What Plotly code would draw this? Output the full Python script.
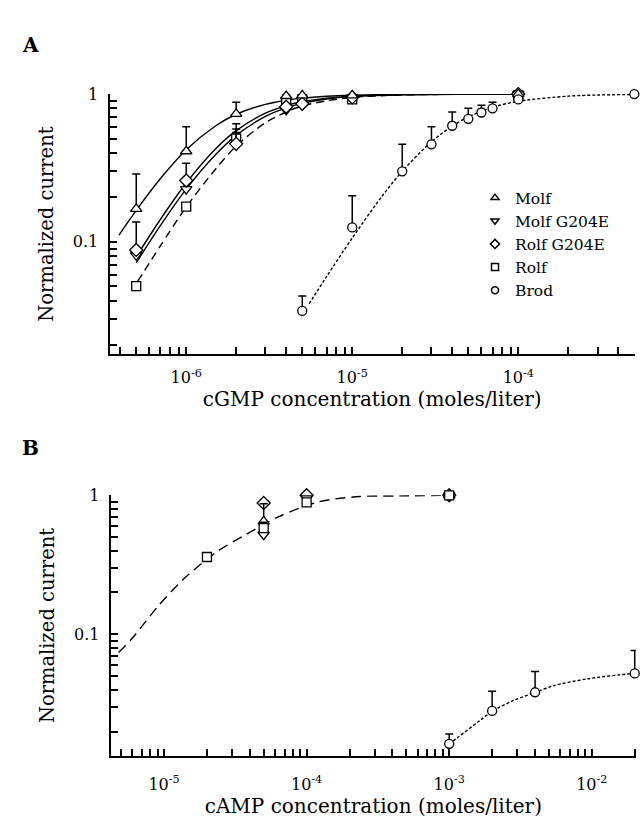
import plotly.graph_objects as go

# ---------------- Panel A (cGMP) data ----------------
a_conc = [5e-7, 1e-6, 2e-6, 4e-6, 5e-6, 1e-5, 1e-4]
a_molf = [0.167, 0.41, 0.735, 0.97, 0.98, 0.98, 1.0]
a_molf_err = [0.12, 0.19, 0.145, 0.03, 0.03, 0.0, 0.0]
a_molfg = [0.081, 0.227, 0.45, 0.78, 0.84, 0.95, 1.0]
a_molfg_err = [0.0, 0.0, 0.13, 0.0, 0.0, 0.0, 0.0]
a_rolfg = [0.088, 0.26, 0.46, 0.82, 0.86, 0.95, 1.0]
a_rolfg_err = [0.048, 0.08, 0.17, 0.0, 0.04, 0.0, 0.0]
a_rolf = [0.05, 0.173, 0.5, 0.88, 0.92, 0.92, 0.98]
a_rolf_err = [0.0, 0.0, 0.05, 0.0, 0.0, 0.0, 0.0]

a_brod_conc = [5e-6, 1e-5, 2e-5, 3e-5, 4e-5, 5e-5, 6e-5, 7e-5, 1e-4, 5e-4]
a_brod = [0.034, 0.125, 0.30, 0.457, 0.61, 0.68, 0.75, 0.80, 0.92, 1.0]
a_brod_err = [0.009, 0.08, 0.157, 0.143, 0.145, 0.12, 0.09, 0.08, 0.03, 0.0]

# fitted curves
a_fit_molf_x = [3.94e-7, 5e-7, 7e-7, 1e-6, 1.5e-6, 2e-6, 3e-6, 4e-6, 5e-6, 7e-6, 1e-5, 2e-5, 5e-5, 1e-4]
a_fit_molf_y = [0.111, 0.163, 0.268, 0.42, 0.608, 0.73, 0.852, 0.908, 0.938, 0.966, 0.982, 0.995, 0.999, 1.0]
a_fit_molfg_x = [5e-7, 7e-7, 1e-6, 1.5e-6, 2e-6, 3e-6, 4e-6, 5e-6, 7e-6, 1e-5, 2e-5, 5e-5, 1e-4]
a_fit_molfg_y = [0.072, 0.129, 0.227, 0.388, 0.525, 0.706, 0.807, 0.865, 0.925, 0.96, 0.989, 0.998, 1.0]
a_fit_rolfg_x = [5e-7, 7e-7, 1e-6, 1.5e-6, 2e-6, 3e-6, 4e-6, 5e-6, 7e-6, 1e-5, 2e-5, 5e-5, 1e-4]
a_fit_rolfg_y = [0.079, 0.142, 0.25, 0.425, 0.565, 0.742, 0.835, 0.887, 0.938, 0.968, 0.992, 0.999, 1.0]
a_fit_rolf_x = [5.1e-7, 7e-7, 1e-6, 1.5e-6, 2e-6, 3e-6, 4e-6, 5e-6, 7e-6, 1e-5, 2e-5, 5e-5, 1e-4]
a_fit_rolf_y = [0.054, 0.094, 0.172, 0.31, 0.445, 0.64, 0.756, 0.83, 0.90, 0.95, 0.986, 0.998, 1.0]
a_fit_brod_x = [5.5e-6, 7e-6, 1e-5, 1.5e-5, 2e-5, 3e-5, 4e-5, 5e-5, 7e-5, 1e-4, 2e-4, 3e-4, 5e-4]
a_fit_brod_y = [0.038, 0.058, 0.106, 0.201, 0.30, 0.476, 0.607, 0.70, 0.813, 0.894, 0.968, 0.985, 0.994]

# ---------------- Panel B (cAMP) data ----------------
b_conc = [5e-5, 1e-4, 1e-3]
b_molf = [0.65, 1.02, 1.0]
b_molf_err = [0.22, 0.0, 0.0]
b_molfg = [0.52, 0.95, 1.0]
b_molfg_err = [0.1, 0.0, 0.0]
b_rolfg = [0.88, 1.0, 1.0]
b_rolfg_err = [0.03, 0.0, 0.0]
b_rolf_conc = [2e-5, 5e-5, 1e-4, 1e-3]
b_rolf = [0.36, 0.58, 0.89, 1.0]
b_rolf_err = [0.0, 0.06, 0.0, 0.0]
b_brod_conc = [1e-3, 2e-3, 4e-3, 2e-2]
b_brod = [0.0163, 0.0281, 0.0383, 0.0523]
b_brod_err = [0.0029, 0.0109, 0.0157, 0.0243]

b_fit_rolf_x = [4.8e-6, 6e-6, 9.2e-6, 1.42e-5, 2.31e-5, 3.76e-5, 6.45e-5, 1.23e-4, 2.36e-4, 4.5e-4, 1e-3]
b_fit_rolf_y = [0.074, 0.094, 0.162, 0.258, 0.388, 0.523, 0.706, 0.90, 0.98, 0.99, 1.0]
b_fit_brod_x = [1e-3, 1.13e-3, 1.65e-3, 2.02e-3, 2.84e-3, 4.04e-3, 5.43e-3, 9.3e-3, 1.78e-2, 2.04e-2]
b_fit_brod_y = [0.0163, 0.0179, 0.0241, 0.0281, 0.0335, 0.0383, 0.0428, 0.0478, 0.0518, 0.0523]

series_names = ["Molf", "Molf G204E", "Rolf G204E", "Rolf", "Brod"]
symbols = ["triangle-up", "triangle-down", "diamond", "square", "circle"]
sizes = [10, 10, 10, 9, 9]

# tick labels
xA_decades = [-7, -6, -5, -4]
xB_decades = [-6, -5, -4, -3, -2]
y_decades = [-2, -1, 0]
xA_labels = {-6: "10<sup>-6</sup>", -5: "10<sup>-5</sup>", -4: "10<sup>-4</sup>"}
xB_labels = {-5: "10<sup>-5</sup>", -4: "10<sup>-4</sup>", -3: "10<sup>-3</sup>", -2: "10<sup>-2</sup>"}
y_labels = {-1: "0.1", 0: "1"}

FONT = "DejaVu Serif"
fig = go.Figure()


def curve(x, y, dash, xa, ya):
    fig.add_trace(go.Scatter(x=x, y=y, mode="lines", xaxis=xa, yaxis=ya,
                             line=dict(color="black", width=1.4, dash=dash, shape="spline", smoothing=0.8),
                             showlegend=False, hoverinfo="skip", cliponaxis=False))


def pts(x, y, err, idx, xa, ya):
    fig.add_trace(go.Scatter(
        x=x, y=y, mode="markers", xaxis=xa, yaxis=ya, showlegend=False,
        marker=dict(symbol=symbols[idx], size=sizes[idx], color="white",
                    line=dict(color="black", width=1.3)),
        error_y=dict(type="data", symmetric=False, array=err,
                     arrayminus=[0] * len(err), color="black", thickness=1.5, width=4),
        cliponaxis=False))


# Panel A curves
curve(a_fit_molf_x, a_fit_molf_y, "solid", "x", "y")
curve(a_fit_molfg_x, a_fit_molfg_y, "solid", "x", "y")
curve(a_fit_rolfg_x, a_fit_rolfg_y, "solid", "x", "y")
curve(a_fit_rolf_x, a_fit_rolf_y, "8px,5px", "x", "y")
curve(a_fit_brod_x, a_fit_brod_y, "3px,2px", "x", "y")
# Panel A points
pts(a_conc, a_rolf, a_rolf_err, 3, "x", "y")
pts(a_conc, a_molfg, a_molfg_err, 1, "x", "y")
pts(a_conc, a_rolfg, a_rolfg_err, 2, "x", "y")
pts(a_conc, a_molf, a_molf_err, 0, "x", "y")
pts(a_brod_conc, a_brod, a_brod_err, 4, "x", "y")

# Panel B curves
curve(b_fit_rolf_x, b_fit_rolf_y, "10px,6px", "x2", "y2")
curve(b_fit_brod_x, b_fit_brod_y, "3px,2px", "x2", "y2")
# Panel B points
pts(b_conc, b_rolfg, b_rolfg_err, 2, "x2", "y2")
pts(b_conc, b_molfg, b_molfg_err, 1, "x2", "y2")
pts(b_conc, b_molf, b_molf_err, 0, "x2", "y2")
pts(b_rolf_conc, b_rolf, b_rolf_err, 3, "x2", "y2")
pts(b_brod_conc, b_brod, b_brod_err, 4, "x2", "y2")

# Legend entries (small markers)
for i, name in enumerate(series_names):
    fig.add_trace(go.Scatter(x=[None], y=[None], mode="markers", name=name,
                             marker=dict(symbol=symbols[i], size=7, color="white",
                                         line=dict(color="black", width=1.5)),
                             xaxis="x", yaxis="y"))


def tick_arrays(decades, labels):
    """All 1..9 x 10^e positions as ticks; labels only on decades."""
    vals, text = [], []
    for e in decades:
        for m in range(1, 10):
            vals.append(m * 10.0 ** e)
            text.append(labels.get(e, "") if m == 1 else "")
    return vals, text


xA_vals, xA_text = tick_arrays(xA_decades, xA_labels)
xB_vals, xB_text = tick_arrays(xB_decades, xB_labels)
y_vals, y_text = tick_arrays(y_decades, y_labels)

axis_common = dict(type="log", showline=True, linecolor="black", linewidth=2,
                   showgrid=False, zeroline=False, ticks="inside", ticklen=7,
                   tickwidth=1.6, tickcolor="black", tickmode="array",
                   tickfont=dict(family=FONT, size=16, color="black"))

fig.update_layout(
    width=640, height=818,
    margin=dict(l=0, r=0, t=0, b=0),
    paper_bgcolor="white", plot_bgcolor="white",
    font=dict(family=FONT, color="black"),
    xaxis=dict(**axis_common, domain=[109.5 / 640, 635 / 640], range=[-6.462, -3.297],
               tickvals=xA_vals, ticktext=xA_text, anchor="y", ticklabelstandoff=8,
               title=dict(text="cGMP concentration (moles/liter)", standoff=6,
                          font=dict(family=FONT, size=20, color="black"))),
    yaxis=dict(**axis_common, domain=[1 - 349 / 818, 1 - 86 / 818], range=[-1.761, 0],
               tickvals=y_vals, ticktext=y_text, anchor="x", ticklabelstandoff=6,
               title=dict(text="Normalized current", standoff=14,
                          font=dict(family=FONT, size=19.5, color="black"))),
    xaxis2=dict(**axis_common, domain=[110.7 / 640, 636 / 640], range=[-5.374, -1.69],
                tickvals=xB_vals, ticktext=xB_text, anchor="y2", ticklabelstandoff=13,
                title=dict(text="cAMP concentration (moles/liter)", standoff=8,
                           font=dict(family=FONT, size=20, color="black"))),
    yaxis2=dict(**axis_common, domain=[1 - 755 / 818, 1 - 491.7 / 818], range=[-1.873, 0],
                tickvals=y_vals, ticktext=y_text, anchor="x2", ticklabelstandoff=6,
                title=dict(text="Normalized current", standoff=14,
                           font=dict(family=FONT, size=19.5, color="black"))),
    legend=dict(x=475 / 640, y=1 - 174 / 818, xanchor="left", yanchor="top",
                bgcolor="rgba(0,0,0,0)", borderwidth=0,
                font=dict(family=FONT, size=15.5, color="black")),
    annotations=[
        dict(text="<b>A</b>", x=20 / 640, y=1 - 22 / 818, xref="paper", yref="paper",
             showarrow=False, font=dict(family=FONT, size=20, color="black")),
        dict(text="<b>B</b>", x=20 / 640, y=1 - 444 / 818, xref="paper", yref="paper",
             showarrow=False, font=dict(family=FONT, size=20, color="black")),
    ],
)

fig.write_html("out.html")
